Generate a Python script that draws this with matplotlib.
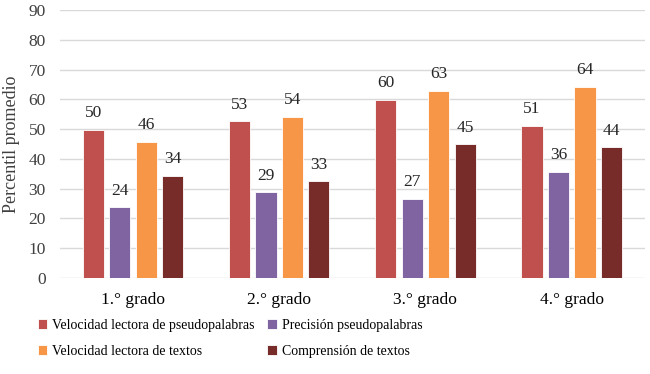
import numpy as np
import matplotlib
matplotlib.use("Agg")
import matplotlib.pyplot as plt

plt.rcParams['font.family'] = ['Liberation Serif', 'DejaVu Serif']

grades = ['1.° grado', '2.° grado', '3.° grado', '4.° grado']
series_names = ['Velocidad lectora de pseudopalabras', 'Precisión pseudopalabras',
                'Velocidad lectora de textos', 'Comprensión de textos']
vel_pseudo = [49.8, 52.6, 59.9, 51.2]
prec_pseudo = [23.7, 28.8, 26.6, 35.7]
vel_textos = [45.8, 54.2, 62.9, 64.3]
comp_textos = [34.3, 32.6, 44.9, 43.9]
colors = ['#C0504D', '#8064A2', '#F79646', '#772C2A']

fig = plt.figure(figsize=(6.5, 3.74), dpi=100)
ax = fig.add_axes([0.092, 0.257, 0.9, 0.716])

x = np.arange(len(grades))
slot = 0.181
width = 0.145
handles = []
for i, vals in enumerate([vel_pseudo, prec_pseudo, vel_textos, comp_textos]):
    pos = x + (i - 1.5) * slot
    b = ax.bar(pos, vals, width, color=colors[i], edgecolor='white', linewidth=0.6,
               label=series_names[i], zorder=3)
    handles.append(b)
    for p, v in zip(pos, vals):
        ax.annotate(f'{v:.0f}', (p, v), xytext=(0, 6), textcoords='offset points',
                    ha='center', va='bottom', fontsize=12.5, color='#262626')

ax.set_xlim(-0.5, 3.5)
ax.set_ylim(0, 90)
ax.set_yticks(np.arange(0, 91, 10))
ax.yaxis.grid(True, color='#D9D9D9', linewidth=1, zorder=0)
ax.set_axisbelow(True)
for s in ['top', 'right', 'left', 'bottom']:
    ax.spines[s].set_visible(False)
ax.tick_params(axis='both', length=0, labelsize=12.5, colors='#404040')
ax.tick_params(axis='y', pad=10)
ax.tick_params(axis='x', pad=10)
ax.set_xticks(x)
ax.set_xticklabels(grades, color='black')
ax.set_ylabel('Percentil promedio', fontsize=13, color='#404040', labelpad=6)

order = [0, 2, 1, 3]
fig.legend([handles[k] for k in order], [series_names[k] for k in order],
           ncol=2, loc='upper left', bbox_to_anchor=(0.058, 0.148), frameon=False,
           fontsize=10, handlelength=0.7, handleheight=0.7, handletextpad=0.35,
           columnspacing=0.9, labelspacing=0.95, borderpad=0, borderaxespad=0)

fig.savefig('out.png', dpi=100)
